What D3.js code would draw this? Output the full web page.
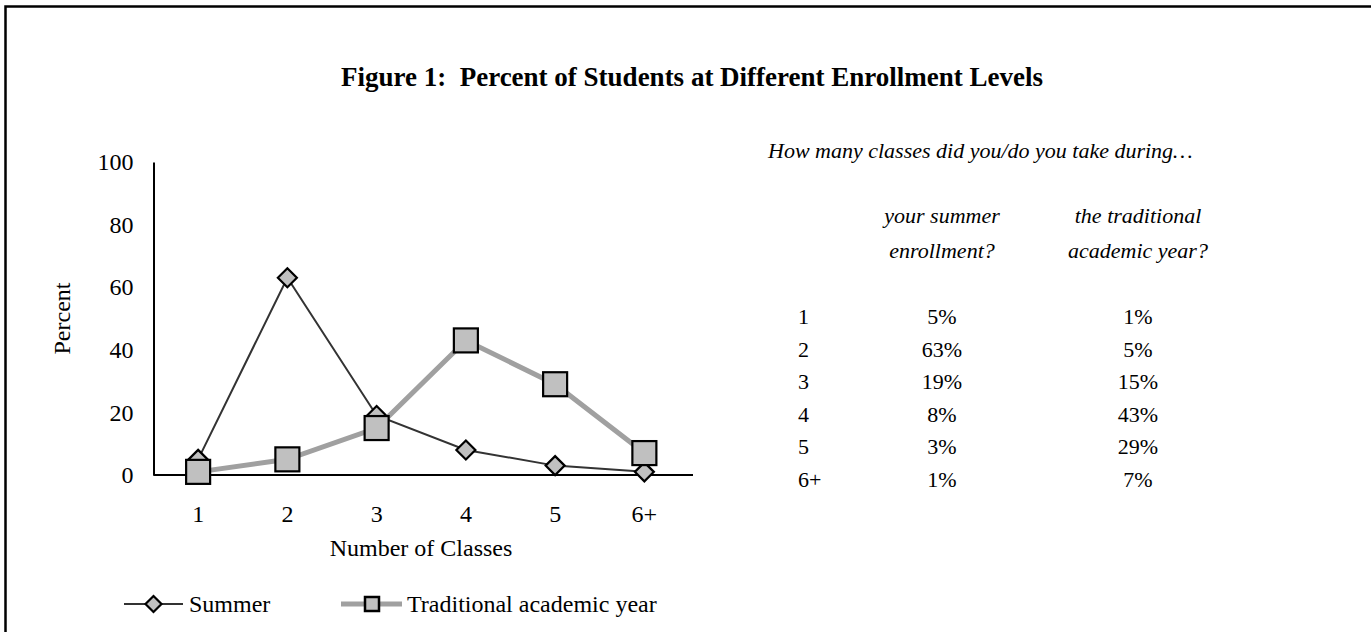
<!DOCTYPE html>
<html>
<head>
<meta charset="utf-8">
<script src="https://cdn.jsdelivr.net/npm/d3@7"></script>
<style>
  body { margin: 0; background: #fff; }
  svg text { font-family: "Liberation Serif", "Times New Roman", serif; fill: #000; }
</style>
</head>
<body>
<div class="chart"></div>
<script>
// chart data
var categories = ["1", "2", "3", "4", "5", "6+"];
var summer = [5, 63, 19, 8, 3, 1];
var traditional = [1, 5, 15, 43, 29, 7];
var yTicks = [0, 20, 40, 60, 80, 100];
var seriesNames = ["Summer", "Traditional academic year"];

var svgWidth = 1371;
var svgHeight = 632;

var svg = d3.select(".chart")
    .append("svg")
    .attr("width", svgWidth)
    .attr("height", svgHeight);

// outer frame
svg.append("rect")
    .attr("x", 5.5)
    .attr("y", 6.5)
    .attr("width", svgWidth + 10)
    .attr("height", svgHeight + 10)
    .attr("fill", "#fff")
    .attr("stroke", "#000")
    .attr("stroke-width", 2.5);

// title
svg.append("text")
    .attr("x", 692)
    .attr("y", 86)
    .attr("text-anchor", "middle")
    .attr("font-size", 27)
    .attr("font-weight", "bold")
    .text("Figure 1:\u00a0\u00a0Percent of Students at Different Enrollment Levels");

// scales
var xScale = d3.scaleBand()
    .domain(categories)
    .range([153.5, 689]);

var yScale = d3.scaleLinear()
    .domain([0, 100])
    .range([475, 162]);

var chartGroup = svg.append("g");

// axes
var leftAxis = d3.axisLeft(yScale).tickValues(yTicks).tickSize(0).tickPadding(20);
var bottomAxis = d3.axisBottom(xScale).tickSize(0).tickPadding(30);

var yAxisG = chartGroup.append("g")
    .attr("transform", `translate(${xScale.range()[0]}, 0)`)
    .call(leftAxis);

var xAxisG = chartGroup.append("g")
    .attr("transform", `translate(0, ${yScale(0)})`)
    .call(bottomAxis);

xAxisG.select(".domain").attr("d", "M153.5,0H693");

[yAxisG, xAxisG].forEach(function (g) {
    g.select(".domain").attr("stroke", "#000").attr("stroke-width", 2);
    g.selectAll("text")
        .attr("font-size", 24)
        .attr("font-family", "Liberation Serif, Times New Roman, serif")
        .attr("fill", "#000");
});

// axis titles
chartGroup.append("text")
    .attr("transform", `translate(70, ${(yScale(0) + yScale(100)) / 2}) rotate(-90)`)
    .attr("text-anchor", "middle")
    .attr("font-size", 24)
    .text("Percent");

chartGroup.append("text")
    .attr("x", 421)
    .attr("y", 556)
    .attr("text-anchor", "middle")
    .attr("font-size", 24)
    .text("Number of Classes");

var xc = function (i) { return xScale(categories[i]) + xScale.bandwidth() / 2; };

var diamond = function (r) {
    return `M0,${-r}L${r},0L0,${r}L${-r},0Z`;
};

// summer line + diamonds
var seriesLine = d3.line()
    .x(function (d, i) { return xc(i); })
    .y(function (d) { return yScale(d); });

chartGroup.append("path")
    .datum(summer)
    .attr("d", seriesLine)
    .attr("fill", "none")
    .attr("stroke", "#333")
    .attr("stroke-width", 2);

chartGroup.selectAll(".summer-pt")
    .data(summer)
    .enter()
    .append("path")
    .attr("class", "summer-pt")
    .attr("transform", function (d, i) { return `translate(${xc(i)}, ${yScale(d)})`; })
    .attr("d", diamond(9.5))
    .attr("fill", "#c0c0c0")
    .attr("stroke", "#000")
    .attr("stroke-width", 2.2);

// traditional line + squares
chartGroup.append("path")
    .datum(traditional)
    .attr("d", seriesLine)
    .attr("fill", "none")
    .attr("stroke", "#a0a0a0")
    .attr("stroke-width", 5);

var sq = 24;
chartGroup.selectAll(".trad-pt")
    .data(traditional)
    .enter()
    .append("rect")
    .attr("class", "trad-pt")
    .attr("x", function (d, i) { return xc(i) - sq / 2; })
    .attr("y", function (d) { return yScale(d) - sq / 2; })
    .attr("width", sq)
    .attr("height", sq)
    .attr("fill", "#c0c0c0")
    .attr("stroke", "#000")
    .attr("stroke-width", 2.2);

// legend
var legendY = 604;
var legend = svg.append("g");

legend.append("line")
    .attr("x1", 124).attr("x2", 183)
    .attr("y1", legendY).attr("y2", legendY)
    .attr("stroke", "#333").attr("stroke-width", 2);
legend.append("path")
    .attr("transform", `translate(153.5, ${legendY})`)
    .attr("d", diamond(8))
    .attr("fill", "#c0c0c0")
    .attr("stroke", "#000")
    .attr("stroke-width", 2.2);
legend.append("text")
    .attr("x", 189).attr("y", legendY + 8)
    .attr("font-size", 24)
    .text(seriesNames[0]);

legend.append("line")
    .attr("x1", 341).attr("x2", 402)
    .attr("y1", legendY).attr("y2", legendY)
    .attr("stroke", "#a0a0a0").attr("stroke-width", 5);
legend.append("rect")
    .attr("x", 365).attr("y", legendY - 7)
    .attr("width", 14).attr("height", 14)
    .attr("fill", "#c0c0c0")
    .attr("stroke", "#000")
    .attr("stroke-width", 2.5);
legend.append("text")
    .attr("x", 407).attr("y", legendY + 8)
    .attr("font-size", 24)
    .text(seriesNames[1]);

// side table
var table = svg.append("g").attr("font-size", 22);

table.append("text")
    .attr("x", 768).attr("y", 158)
    .attr("font-style", "italic")
    .text("How many classes did you/do you take during\u2026");

var col1 = 942, col2 = 1138;
var headers = [
    { x: col1, lines: ["your summer", "enrollment?"] },
    { x: col2, lines: ["the traditional", "academic year?"] }
];
headers.forEach(function (h) {
    h.lines.forEach(function (t, j) {
        table.append("text")
            .attr("x", h.x).attr("y", 223 + j * 35)
            .attr("text-anchor", "middle")
            .attr("font-style", "italic")
            .text(t);
    });
});

var rowY = d3.scalePoint()
    .domain(categories)
    .range([324, 487]);

categories.forEach(function (c, i) {
    table.append("text")
        .attr("x", 798).attr("y", rowY(c))
        .text(c);
    table.append("text")
        .attr("x", col1).attr("y", rowY(c))
        .attr("text-anchor", "middle")
        .text(summer[i] + "%");
    table.append("text")
        .attr("x", col2).attr("y", rowY(c))
        .attr("text-anchor", "middle")
        .text(traditional[i] + "%");
});
</script>
</body>
</html>
